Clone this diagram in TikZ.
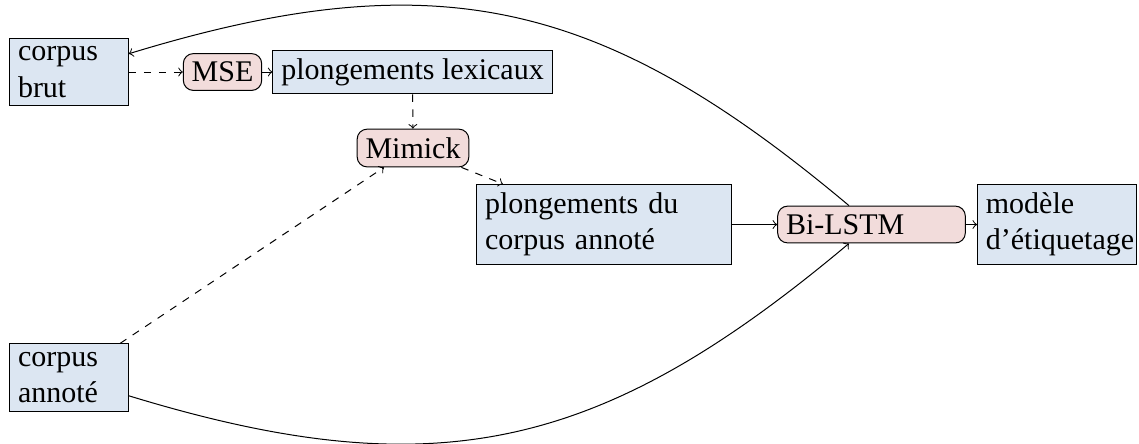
\documentclass[tikz,border=0pt]{standalone}
\usepackage{fontspec}
\setmainfont{Liberation Serif}
\usetikzlibrary{arrows}
\definecolor{datafill}{HTML}{DCE6F2}
\definecolor{procfill}{HTML}{F2DCDB}
\begin{document}
\begin{tikzpicture}[x=0.4pt,y=0.4pt,
  every node/.style={font=\fontsize{12}{14.5}\selectfont},
  data/.style={draw, fill=datafill, align=left},
  proc/.style={draw, fill=procfill, rounded corners=4pt},
  flow/.style={->},
  aux/.style={->, dashed}]
\useasboundingbox (0,0) rectangle (1139,-443);

% data (blue) and processing (pink) boxes
\node[data, text width=40.8pt] (cb) at (69,-72) {corpus\\brut};
\node[proc] (mse) at (222.5,-72) {MSE};
\node[data] (pl) at (412.5,-72) {plongements lexicaux};
\node[proc] (mim) at (413,-148) {Mimick};
\node[data, text width=95.2pt] (pc) at (604,-224.5) {plongements du\\corpus annoté};
\node[proc, text width=68.4pt, align=left] (bl) at (871.5,-224.5) {Bi-LSTM};
\node[data, text width=56.9pt] (mo) at (1057,-224.5) {modèle\\d’étiquetage};
\node[data, text width=40.8pt] (ca) at (69,-377.5) {corpus\\annoté};

% connectors
\draw[aux] (cb) -- (mse);
\draw[flow] (mse) -- (pl);
\draw[aux] (pl) -- (mim);
\draw[aux] (mim) -- (pc);
\draw[aux] (ca) -- (mim);
\draw[flow] (pc) -- (bl);
\draw[flow] (bl) -- (mo);
\draw[flow] (bl) to[out=140, in=17, looseness=1.12] (cb);
\draw[flow] (ca) to[out=-17, in=-140, looseness=1.12] (bl);
\end{tikzpicture}
\end{document}
